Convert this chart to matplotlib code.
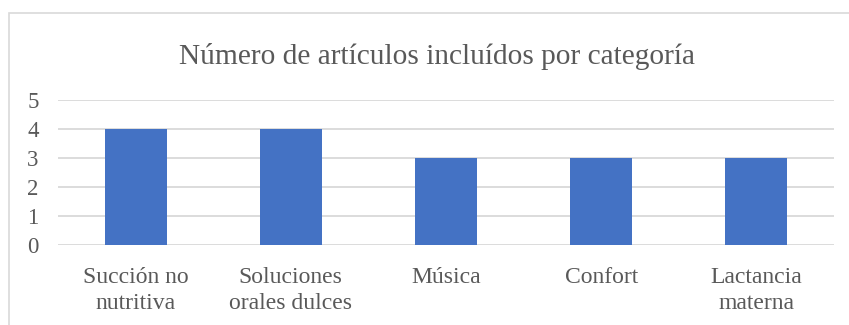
import matplotlib
matplotlib.use("Agg")
import matplotlib.pyplot as plt
from matplotlib.patches import Rectangle

categories = ["Succión no\nnutritiva", "Soluciones\norales dulces", "Música", "Confort", "Lactancia\nmaterna"]
values = [4, 4, 3, 3, 3]
yticks = [0, 1, 2, 3, 4, 5]
title = "Número de artículos incluídos por categoría"

plt.rcParams['font.family'] = ['Liberation Serif', 'DejaVu Serif']
W, H = 849, 325
fig = plt.figure(figsize=(W / 100, H / 100), dpi=100)
ax = fig.add_axes([58 / W, 1 - 245 / H, (834 - 58) / W, (245 - 100) / H])

text_col = "#595959"
grid_col = "#D9D9D9"

x = list(range(len(categories)))
ax.bar(x, values, width=0.4, color="#4472C4", zorder=3)
ax.set_xlim(-0.5, len(categories) - 0.5)
ax.set_ylim(0, 5)
ax.set_yticks(yticks)
ax.set_yticklabels([str(t) for t in yticks], fontsize=16.5, color=text_col)
ax.set_xticks(x)
ax.set_xticklabels(categories, fontsize=17, color=text_col, linespacing=1.3)
ax.tick_params(axis='y', length=0, pad=14)
ax.tick_params(axis='x', length=0, pad=16)
ax.grid(axis='y', color=grid_col, linewidth=1.3, zorder=0)
for s in ax.spines.values():
    s.set_visible(False)

fig.text(437 / W, 1 - 56 / H, title, ha='center', va='center', fontsize=21.2, color=text_col)

fig.patches.append(Rectangle((8.5 / W, -0.1), 1.2, (1 - 13.5 / H) + 0.1,
                             transform=fig.transFigure, fill=False,
                             edgecolor=grid_col, linewidth=1.2))

fig.savefig("out.png", dpi=100)
